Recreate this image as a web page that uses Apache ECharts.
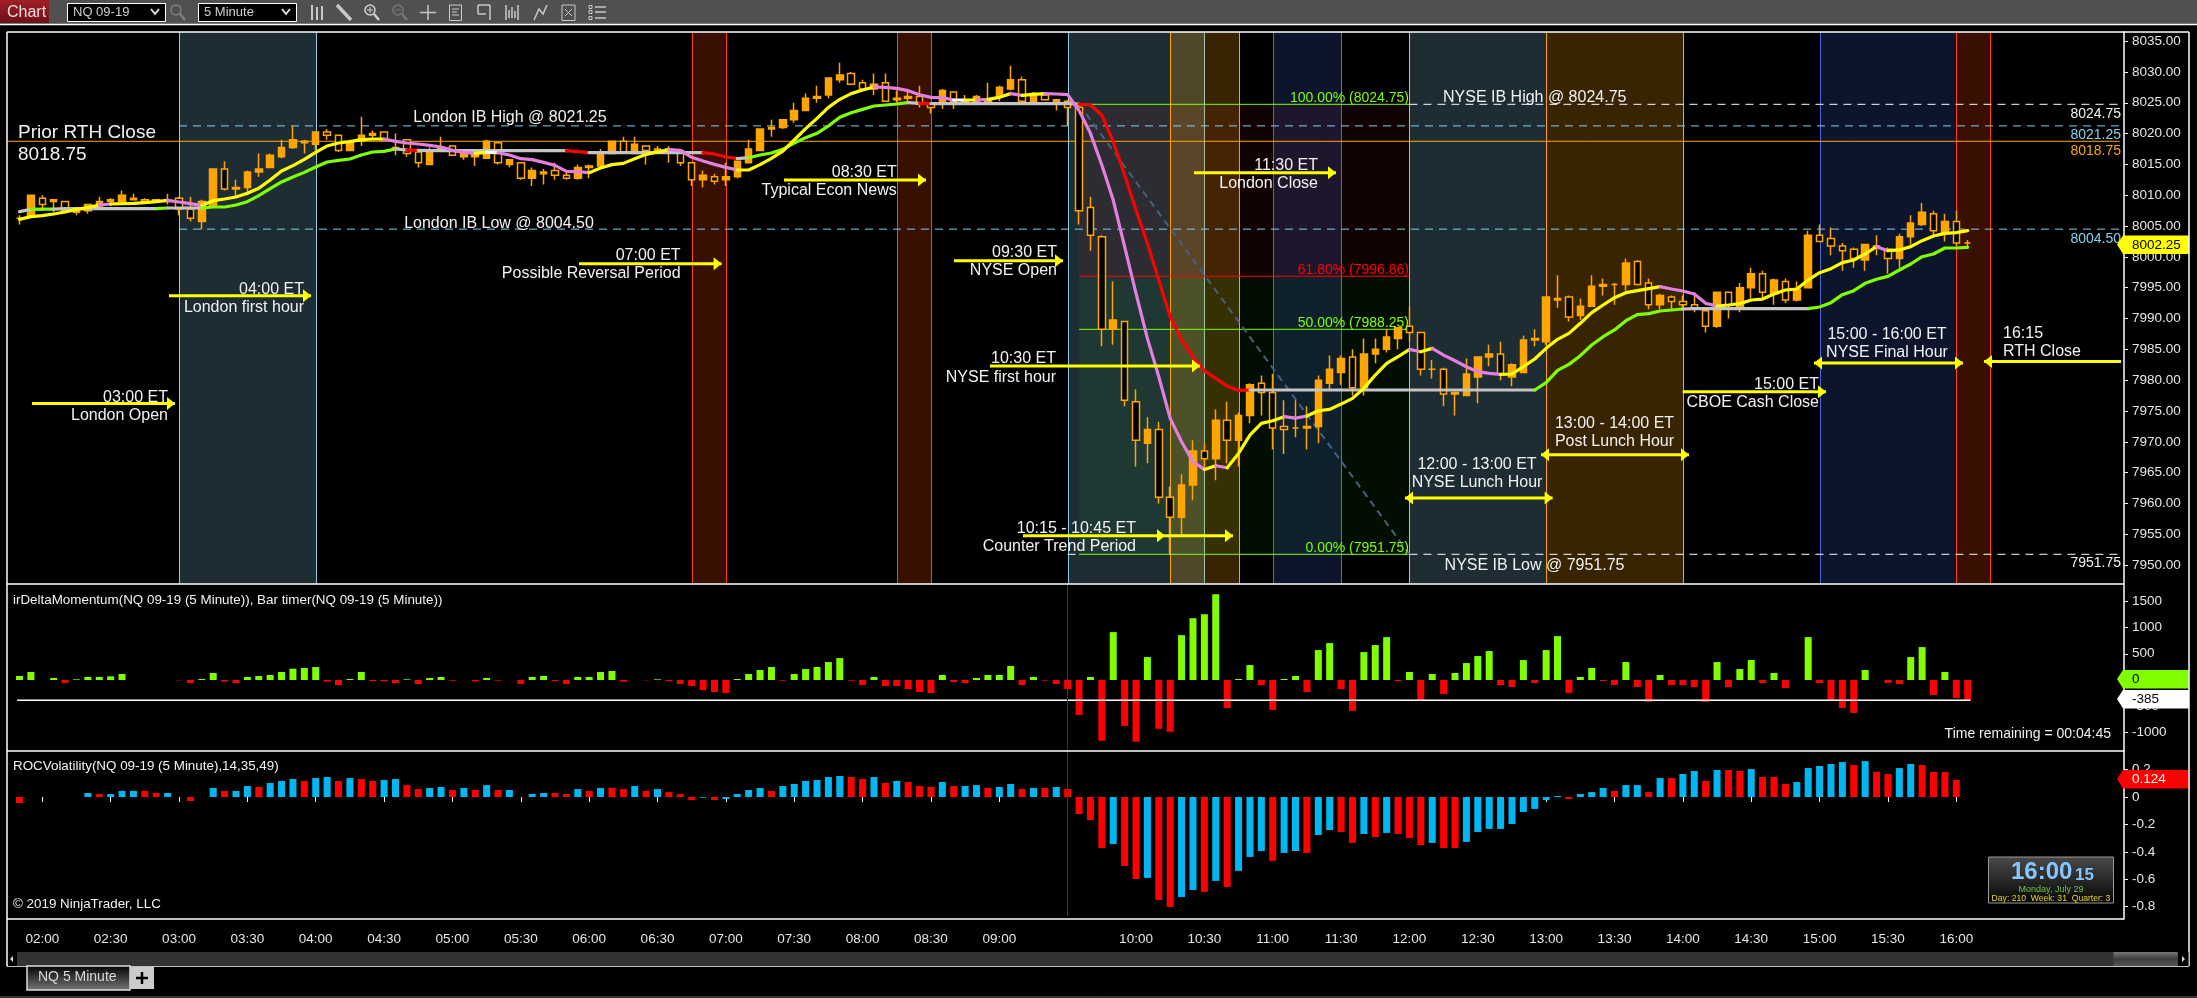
<!DOCTYPE html>
<html><head><meta charset="utf-8">
<style>html,body{margin:0;padding:0;background:#000}#c{width:2197px;height:998px}</style>
<script src="https://cdn.jsdelivr.net/npm/echarts@6/dist/echarts.min.js"></script>
</head><body><div id="c"></div>
<script>
// ---------- data: 5-minute bars, index 0 = 01:50 ----------
const firstBarMinute = 110, barMinutes = 5;
const opens = [8006.25,8006.5,8009.5,8009,8009,8007.25,8007.5,8008.25,8009,8009,
8009.25,8009.25,8009.25,8009,8009.5,8007.75,8005.75,8008.25,8014.25,8011,
8011.25,8013.75,8014.5,8016.25,8017.75,8018.5,8018.25,8020.25,8019.75,8017.25,
8018.75,8019.75,8020.25,8017.5,8019,8017,8015,8017.5,8018,8016.25,
8016.25,8016,8018.5,8015,8015.25,
8012.75,8013.5,8014,8013.25,8012.75,8014.5,8014.75,8016.75,8018.75,8016.75,
8018,8017.25,8017.25,8017.25,8015.25,8012.5,8013,8012.5,8013,8015.25,
8017.25,8020.75,8021,8022.25,8023.75,8025.75,8026.25,8028.75,8029.75,8028.25,
8027.25,8028.25,8025.5,8025.75,8026,8024.75,8024.75,8026.75,8025.25,8025.25,
8025.25,8026,8027.25,8028.75,8025.25,8026.25,
8025.25,8025.25,8024.25,8008,8003.25,7988.25,7989.5,7976.5,7969.75,7972,
7961,7957.75,7963,7968.5,7967.25,7973.5,7970.25,7974.25,7979.5,7978,
7972.5,7972.25,7972.5,7972.5,7979.5,7981.25,7983.75,7978.75,7984.25,7985,
7986.75,7988.75,7987.75,7981.75,7981.75,7977.75,7977.5,7980.5,
7983.75,7984.25,7980.5,7981.25,7986.75,7986.25,7993,7993.5,7990.5,7992,
7995.25,7995.5,7995.5,7999.25,7995.75,7992.25,7993.5,7992.75,7992.25,7991.25,
7988.75,7994.25,7992,7995,7997.25,7994,7996,7993,7995,8003.5,
8003,8001.75,8001.25,7999.5,8001.5,8001.25,7999.75,8003.25,8005.25,8007,
8004,8005.75,8002.25];
const closes = [8006.25,8010,8008.5,8009.25,8007.5,8007.5,8008.5,8009,8009.25,8010,
8009.5,8009,8009,8009.25,8007.75,8006.25,8009,8014.25,8011,8011.25,
8013.75,8014.25,8016.5,8017.75,8019,8018.75,8020.25,8019.75,8017.25,8018.5,
8019.75,8020,8019,8017.75,8016.75,8015.25,8017,8017.75,8016.5,8017,
8016.75,8018.75,8015.25,8015.75,8012.75,
8014,8013.75,8013.25,8012.75,8014.5,8014.75,8016.75,8018.75,8017,8018.25,
8017.25,8017.5,8017.5,8015.25,8012.5,8013.25,8012.25,8013,8015.5,8017.5,
8020.75,8021,8022.25,8023.75,8025.75,8026,8029,8029.5,8028,8027.25,
8028,8025.25,8025.75,8026,8024.75,8024.25,8027,8025.25,8025.5,8026,
8025.5,8027.5,8028.75,8025.25,8026.5,8025.5,
8025.5,8024.25,8007.5,8003.5,7988.25,7989.75,7976.75,7970.25,7972,7961,
7957.75,7963,7968.5,7967.25,7973.5,7970.25,7974.25,7979.25,7978,7972.25,
7972,7972.25,7972.25,7980,7981.75,7983.5,7978.75,7984.25,7985,7987,
7988.5,7987.75,7981.75,7981.75,7977.75,7978,7981,7983.75,
7984.25,7981,7982.5,7986.5,7986.5,7993.5,7993.25,7990.25,7992,7995.25,
7995.5,7995.5,7999,7995.5,7992.25,7993.75,7992.75,7992.25,7991.75,7988.75,
7994.25,7992.25,7995,7997.25,7994.25,7996.25,7993,7994.75,8003.5,8002.5,
8001.75,8001,7999.75,8002,8001.75,7999.75,8003.25,8005.5,8007.25,8004.25,
8005.75,8002.25,8002.25];
const highs = [8006.75,8010,8010,8009.25,8009,8007.5,8008.5,8009.75,8009.5,8010.75,
8010.25,8009.5,8009.25,8010.25,8009.75,8009.75,8009.25,8014.25,8015.5,8012.5,
8014,8016.75,8016.75,8019,8021.25,8019,8020.25,8020.75,8019.75,8019,
8022.75,8020.5,8020.25,8020,8019,8017.5,8017.75,8019.5,8018,8017.5,
8017.5,8019,8018.5,8015.75,8015.25,
8014.5,8014.25,8015.25,8014,8015,8015,8017.5,8018.75,8019.5,8019.5,
8018,8018,8018,8017.5,8015.25,8014,8013.5,8015.25,8015.5,8019,
8020.75,8022.25,8022.25,8025,8026.5,8027.75,8029,8031.5,8030,8028.75,
8029.75,8029.75,8027,8026.75,8027.75,8025,8027.25,8026.75,8026.25,8026.25,
8028.25,8027.75,8031,8029.25,8026.75,8026.75,
8025.5,8025.5,8024.75,8009.75,8003.5,7996,7989.5,7978.5,7974,7973.25,
7962.75,7964.75,7970.25,7969.75,7975.25,7976.5,7974.75,7979.5,7980.75,7981,
7976.75,7976.75,7975.75,7980.75,7984,7984,7985,7986.75,7986.75,7988.25,
7988.5,7992,7987.75,7983.25,7982,7978,7983.5,7983.75,
7985.75,7986.25,7982.75,7987.25,7988.25,7993.5,7997,7993.75,7993.25,7997,
7996.5,7995.75,7999.75,7999.5,7996.5,7994,7993.75,7993.75,7994.25,7991.75,
7994.25,7994.25,7995.75,7998.25,7997.75,7996.5,7996.5,7996,8004.25,8005.25,
8004.75,8002.25,8001.5,8002,8003.5,8001.5,8003.75,8006.75,8008.75,8007.5,
8007,8007.5,8002.75];
const lows = [8005.25,8006.5,8007.5,8007.25,8007.5,8006.75,8007,8008.25,8008.25,8009,
8009.25,8008.75,8009,8008.5,8006.75,8005.75,8004.5,8008.25,8010.75,8009.5,
8010,8013,8014.5,8016,8017.5,8016.75,8017.25,8019,8017,8017.25,
8018,8019,8019,8016.5,8016.25,8014.5,8015,8017,8016.5,8015.75,
8014.75,8016,8015,8014.5,8012.5,
8011.5,8011.75,8012.5,8012.5,8012.5,8012.75,8014.5,8016.75,8016.75,8016.75,
8015,8016.75,8015.25,8014.75,8011.5,8011.25,8011.75,8011.5,8012.75,8015.25,
8017.25,8019.5,8020.75,8021.75,8023.75,8025,8025.75,8028.25,8028,8027.25,
8026.25,8025.25,8025,8025.25,8024.25,8023.25,8024,8024,8025,8025,
8025,8025.25,8027,8025,8025.25,8025.5,
8023.75,8021.25,8005.25,8001,7985.5,7985.75,7975.75,7966,7966.5,7960,
7951.75,7955,7960.5,7965.75,7963.75,7966.5,7966,7973,7974.25,7968.75,
7968,7970.75,7968.75,7969.75,7978.5,7979.25,7977.5,7977.5,7982.75,7984.5,
7985,7986.25,7980.75,7980.25,7975.75,7974.25,7977.5,7976.25,
7982.25,7980,7979,7981.25,7985.5,7985.75,7991.75,7989.5,7989.75,7992,
7993.75,7992.25,7994.5,7995.5,7991.5,7991.5,7991.5,7991.5,7991,7987.75,
7988.5,7990,7991,7993.25,7993,7992.25,7992.5,7992.75,7995,8002.5,
8000.25,7997.75,7998.25,7997.75,8000.25,7997.25,7998.25,8002,8005,8003.5,
8002.5,8001.75,8001.5];
const fastLine = [8006.09,8006.52,8006.68,8006.95,8007.28,8007.71,8007.98,8008.41,8008.58,8008.63,
8008.68,8008.79,8008.95,8009.17,8008.90,8008.63,8008.36,8009.12,8009.39,8009.71,
8010.31,8011.12,8012.47,8013.93,8014.80,8015.82,8016.96,8017.99,8018.47,8018.69,
8019.01,8019.12,8019.12,8018.74,8018.47,8018.31,8018.09,8017.82,8017.28,8016.96,
8016.80,8016.96,8016.90,8016.53,8015.93,
8015.77,8015.33,8014.85,8013.87,8013.82,8013.66,8014.41,8014.96,8015.17,8015.93,
8016.63,8017.01,8017.39,8017.28,8016.15,8015.55,8015.01,8014.52,8014.09,8014.09,
8014.96,8015.98,8017.17,8018.96,8020.80,8022.47,8024.26,8025.56,8026.48,8027.07,
8027.56,8027.50,8027.34,8026.96,8026.31,8025.88,8025.83,8025.45,8025.45,8025.45,
8025.56,8025.88,8026.48,8026.20,8026.37,8026.48,
8026.42,8026.31,8023.72,8020.04,8014.90,8009.22,8001.65,7994.08,7986.78,7980.56,
7973.80,7970.01,7966.77,7965.52,7966.12,7965.79,7968.12,7971.09,7972.99,7973.42,
7974.07,7973.85,7974.18,7975.04,7975.26,7976.12,7977.04,7978.67,7980.83,7982.72,
7983.80,7984.99,7984.61,7985.16,7984.07,7983.15,7982.18,7981.37,
7981.10,7980.94,7981.00,7982.19,7983.43,7985.16,7986.62,7987.59,7989.22,7990.95,
7992.19,7993.38,7994.19,7994.52,7994.84,7995.17,7994.79,7994.46,7993.98,7992.46,
7992.03,7992.19,7992.41,7993.00,7993.16,7993.98,7994.63,7994.79,7996.25,7997.44,
7998.09,7999.06,7999.49,8000.47,8001.66,8001.01,8001.12,8001.66,8002.63,8003.39,
8003.82,8003.93,8004.25];
const slowLine = [8007.33,8007.71,8007.76,8007.76,8007.82,8007.82,8007.82,8007.82,8007.82,8007.82,
8007.82,8007.82,8007.82,8007.93,8007.93,8007.93,8007.93,8008.09,8008.09,8008.41,
8008.95,8009.93,8011.06,8012.15,8012.96,8013.71,8014.58,8015.39,8015.66,8015.88,
8016.53,8017.01,8017.12,8017.50,8017.34,8017.28,8017.23,8017.23,8017.23,8017.23,
8017.23,8017.23,8017.23,8017.23,8017.23,8017.23,8017.23,8017.23,8017.23,8017.06,
8016.90,8016.90,8016.90,8016.90,8016.90,8016.90,8016.90,8016.90,8016.90,8016.90,
8016.90,8016.69,8016.20,8015.93,8016.09,8016.52,8016.85,8017.44,8018.47,8019.34,
8020.04,8021.23,8022.64,8023.39,8023.93,8024.47,8024.64,8024.80,8025.01,8024.91,
8024.85,8024.85,8024.85,8024.85,8024.85,8024.85,8024.85,8024.85,8024.85,8024.85,
8024.85,8024.85,8024.85,8024.80,8024.64,8023.01,8018.69,8013.28,8007.60,8002.19,
7996.24,7990.29,7986.51,7983.80,7981.53,7980.29,7979.04,7978.34,7978.40,7978.40,
7978.40,7978.40,7978.40,7978.40,7978.40,7978.40,7978.40,7978.40,7978.40,7978.40,
7978.40,7978.40,7978.40,7978.40,7978.40,7978.40,7978.40,7978.40,7978.40,7978.40,
7978.40,7978.40,7978.40,7978.40,7979.59,7981.59,7982.56,7983.97,7985.70,7987.05,
7988.14,7989.65,7990.62,7990.79,7991.22,7991.38,7991.54,7991.60,7991.60,7991.60,
7991.60,7991.60,7991.60,7991.60,7991.60,7991.60,7991.60,7991.60,7991.87,7992.57,
7993.87,7994.52,7995.71,7996.36,7996.84,7997.87,7998.84,8000.03,8000.47,8001.44,
8001.44,8001.55];
// colour state of each line: [first bar index, state]
const fastStates = [[0,'Y'],[7,'P'],[8,'Y'],[13,'P'],[16,'Y'],[32,'P'],[40,'Y'],[41,'W'],[42,'P'],[50,'Y'],[57,'P'],[63,'Y'],[75,'P'],[82,'W'],[83,'Y'],[84,'P'],[85,'Y'],[87,'P'],[88,'Y'],[90,'P'],[104,'Y'],[105,'P'],[106,'Y'],[111,'P'],[113,'Y'],[122,'P'],[123,'Y'],[124,'P'],[130,'Y'],[144,'P'],[149,'Y'],[163,'P'],[164,'Y']];
const slowStates = [[0,'G'],[1,'N'],[3,'G'],[12,'N'],[13,'G'],[16,'N'],[33,'G'],[34,'R'],[35,'G'],[48,'R'],[50,'G'],[60,'R'],[63,'G'],[64,'N'],[78,'G'],[79,'R'],[80,'G'],[93,'R'],[108,'G'],[133,'N'],[146,'G'],[157,'N']];
const deltaValues = [76,152,0,38,-57,13,57,57,70,114,0,0,0,0,-6,-57,19,133,-32,-57,
57,76,95,152,215,228,247,-32,-95,19,152,-19,-25,-57,13,-76,38,57,-13,0,
-25,38,-13,0,-76,57,76,-19,-76,57,57,152,171,-32,0,-6,13,-19,-76,-114,
-190,-228,-247,19,114,190,247,-13,114,209,247,342,418,-13,-95,57,-114,-114,-171,-228,
-247,95,-38,-57,38,95,95,266,-95,57,-13,-76,-171,-665,57,-1158,912,-874,-1177,437,
-930,-987,855,1177,1253,1633,-532,19,285,-95,-570,19,76,-228,570,703,-171,-589,532,665,
817,-19,152,-399,114,-266,133,323,456,551,-95,-133,380,-57,570,836,-247,57,228,-19,
-95,342,-133,-418,95,-95,-95,-133,-418,342,-133,209,380,-57,133,-152,0,817,-57,-399,
-532,-627,190,0,-57,-76,437,627,-285,152,-342,-385];
const rocValues = [-0.044,null,null,null,null,null,0.029,0.022,0.022,0.044,0.044,0.044,0.029,0.029,null,-0.029,null,0.066,0.044,0.044,
0.08,0.073,0.102,0.117,0.131,0.117,0.138,0.146,0.117,0.138,0.131,0.117,0.124,0.131,0.087,0.058,0.066,0.073,0.051,0.066,
0.051,0.087,0.051,0.051,null,0.022,0.029,0.029,0.022,0.058,0.044,0.066,0.066,0.058,0.08,0.044,0.058,0.036,0.022,-0.022,
-0.005,-0.022,-0.015,0.022,0.051,0.066,0.044,0.08,0.095,0.117,0.124,0.146,0.153,0.146,0.131,0.146,0.102,0.117,0.109,0.08,
0.073,0.109,0.08,0.08,0.087,0.066,0.073,0.095,0.058,0.066,0.066,0.073,0.058,-0.124,-0.168,-0.372,-0.343,-0.503,-0.598,-0.59,
-0.751,-0.802,-0.729,-0.678,-0.692,-0.612,-0.656,-0.539,-0.437,-0.394,-0.466,-0.408,-0.394,-0.408,-0.277,-0.241,-0.255,-0.335,-0.27,-0.292,
-0.262,-0.27,-0.299,-0.35,-0.335,-0.372,-0.372,-0.328,-0.255,-0.233,-0.233,-0.197,-0.109,-0.087,-0.022,0.007,-0.015,0.022,0.036,0.066,
0.044,0.087,0.087,0.036,0.138,0.138,0.168,0.19,0.117,0.197,0.197,0.19,0.204,0.146,0.146,0.095,0.109,0.211,0.226,0.241,
0.255,0.233,0.262,0.182,0.168,0.211,0.241,0.233,0.182,0.182,0.124,null];
const rocStates = ["r-----brbbbrrb-r-brb","brbbbrbbrbrrbbrrbbrb","rbrb-bbrrbrbrrbrbrrr","brbbbbrbbbbbbrrbrbrr","rbrbbrbbrbrbrrrrbrrb","rrbbrbrbbbrbbrbbrrbr","brrrbrrbbbbbbbbbrbbb","rbbrbrbbrbrrbrrrbbbb","brbrrbbrrrr-"].join('');
// session regions, in minutes after midnight
const regions = [
 {from:180,to:240,kind:'sky'},{from:405,to:420,kind:'rust'},{from:495,to:510,kind:'rust'},
 {from:570,to:630,kind:'sky'},{from:660,to:690,kind:'royal'},{from:720,to:780,kind:'sky'},
 {from:780,to:840,kind:'amber'},{from:900,to:960,kind:'royal'},{from:960,to:975,kind:'rust'},
 {from:615,to:645,kind:'amber'}
];
const priceTicks = [8035,8030,8025,8020,8015,8010,8005,8000,7995,7990,7985,7980,7975,7970,7965,7960,7955,7950];
const deltaTicks = [1500,1000,500,0,-500,-1000];
const rocTicks = [0.2,0,-0.2,-0.4,-0.6,-0.8];
const timeTicks = [120,150,180,210,240,270,300,330,360,390,420,450,480,510,540,600,630,660,690,720,750,780,810,840,870,900,930,960];
const priorClose=8018.75, londonHigh=8021.25, londonLow=8004.5, nyseHigh=8024.75, nyseLow=7951.75;
const fib618=7996.86, fib50=7988.25, lastPrice=8002.25, lastDelta=-385, lastRoc=0.124;

// ---------- layout ----------
const gridLeft=7, gridWidth=2117, xMin=104.51, xMax=1033.6;
const xOf=i=>firstBarMinute+barMinutes*i;
const hhmm=m=>String(Math.floor(m/60)).padStart(2,'0')+':'+String(m%60).padStart(2,'0');
const FONT='"Liberation Sans",Arial,sans-serif';
const AX='#e6e6e6';
const palette={Y:'#ffff00',P:'#e37fe0',W:'#ffffff',G:'#c4c4c4',N:'#7fff00',R:'#ff0000'};
const kinds={sky:['rgba(135,206,235,0.22)','#87ceeb'],rust:['rgba(255,69,0,0.22)','#ff4500'],
 royal:['rgba(65,105,225,0.2)','#4169e1'],amber:['rgba(255,165,0,0.22)','#ffa500']};

const chart=echarts.init(document.getElementById('c'),null,{width:2197,height:998,renderer:'canvas'});
const series=[];
function rectItem(api,x0,x1,p0,p1){
  const a=api.coord([x0,p0]), b=api.coord([x1,p1]);
  return {x:a[0],y:a[1],width:b[0]-a[0],height:b[1]-a[1]};
}
series.push({type:'custom',xAxisIndex:0,yAxisIndex:0,z:1,silent:true,clip:true,
 data:regions.map(r=>[r.from,r.to]),encode:{x:[0,1]},
 renderItem(params,api){
  const r=regions[params.dataIndex],k=kinds[r.kind];
  const cs=params.coordSys, top=cs.y, bot=cs.y+cs.height;
  const x0=Math.round(api.coord([r.from,8000])[0])+.5, x1=Math.round(api.coord([r.to,8000])[0])+.5;
  return {type:'group',children:[
   {type:'rect',shape:{x:x0,y:top,width:x1-x0,height:bot-top},style:{fill:k[0]}},
   {type:'line',shape:{x1:x0,y1:top,x2:x0,y2:bot},style:{stroke:k[1],lineWidth:1}},
   {type:'line',shape:{x1:x1,y1:top,x2:x1,y2:bot},style:{stroke:k[1],lineWidth:1}}]};
 }});
const fibFrom=575, fibTo=720;
series.push({type:'custom',xAxisIndex:0,yAxisIndex:0,z:1,silent:true,
 data:[[fibFrom,fibTo,nyseHigh,fib618,0],[fibFrom,fibTo,fib618,nyseLow,1]],encode:{x:[0,1],y:[2,3]},
 renderItem(params,api){
  return {type:'rect',shape:rectItem(api,api.value(0),api.value(1),api.value(2),api.value(3)),
   style:{fill:api.value(4)?'rgba(60,255,60,0.055)':'rgba(255,40,40,0.07)'}};
 }});
function seg(points,color,width,type,z){
 series.push({type:'line',xAxisIndex:0,yAxisIndex:0,data:points,showSymbol:false,symbol:'none',silent:true,z:z||2,
  lineStyle:{color,width:width||1,type:type||'solid'},animation:false});
}
seg([[xMin,priorClose],[xMax-2,priorClose]],'#ffa500',1);
seg([[180,londonHigh],[xMax-2,londonHigh]],'#87ceeb',1,[8,6]);
seg([[180,londonLow],[xMax-2,londonLow]],'#87ceeb',1,[8,6]);
seg([[570,nyseHigh],[fibFrom,nyseHigh]],'#ffffff',1,[8,6]);
seg([[fibTo,nyseHigh],[xMax,nyseHigh]],'#ffffff',1,[8,6]);
seg([[570,nyseLow],[fibFrom,nyseLow]],'#ffffff',1,[8,6]);
seg([[fibTo,nyseLow],[xMax,nyseLow]],'#ffffff',1,[8,6]);
seg([[fibFrom,nyseHigh],[fibTo,nyseHigh]],'#7fff00',1);
seg([[fibFrom,fib618],[fibTo,fib618]],'#ff0000',1);
seg([[fibFrom,fib50],[fibTo,fib50]],'#7fff00',1);
seg([[fibFrom,nyseLow],[fibTo,nyseLow]],'#7fff00',1);
seg([[fibFrom,nyseHigh],[fibTo,nyseLow]],'#46607e',2,[7,5]);
series.push({type:'candlestick',xAxisIndex:0,yAxisIndex:0,z:3,silent:true,barWidth:7,encode:{x:0,y:[1,2,3,4]},
 itemStyle:{color:'#ffa500',color0:'#000000',borderColor:'#ffa500',borderColor0:'#ffa500',borderColorDoji:'#ffa500',borderWidth:1.5},
 data:opens.map((o,i)=>[xOf(i),o,closes[i],lows[i],highs[i]])});
function runs(values,states,z){
 states.forEach((s,k)=>{
  const end=k+1<states.length?states[k+1][0]:values.length-1;
  const pts=[];for(let i=s[0];i<=end;i++)pts.push([xOf(i),values[i]]);
  series.push({type:'line',xAxisIndex:0,yAxisIndex:0,data:pts,symbol:'none',silent:true,z,
   lineStyle:{color:palette[s[1]],width:3.2,cap:'round',join:'round'}});
 });
}
runs(slowLine,slowStates,4);
runs(fastLine,fastStates,5);
series.push({type:'bar',xAxisIndex:1,yAxisIndex:1,barWidth:7,silent:true,z:2,
 data:deltaValues.map((v,i)=>({value:[xOf(i),v],itemStyle:{color:v>=0?'#7fff00':'#ff0000'}}))});
series.push({type:'line',xAxisIndex:1,yAxisIndex:1,symbol:'none',silent:true,z:3,
 lineStyle:{color:'#fff',width:1.5},data:[[xOf(0)-1,lastDelta],[xOf(deltaValues.length-1)+1.2,lastDelta]]});
series.push({type:'bar',xAxisIndex:2,yAxisIndex:2,barWidth:7,silent:true,z:2,
 data:rocValues.map((v,i)=>({value:[xOf(i),v],itemStyle:{color:rocStates[i]==='r'?'#ff0000':'#00b7f1'}}))});

const xBase={type:'value',min:xMin,max:xMax,splitLine:{show:false},axisLine:{show:false},axisTick:{show:false},axisLabel:{show:false}};
const yBase=t=>({position:'right',type:'value',splitLine:{show:false},
 axisLine:{show:true,lineStyle:{color:'#fff',width:1.5}},axisTick:{show:true,length:4,lineStyle:{color:'#fff'},customValues:t},
 });
const lab=(t,f)=>({show:true,color:AX,fontFamily:FONT,fontSize:13.5,margin:8,customValues:t,formatter:f,showMinLabel:true,showMaxLabel:true});

// ---------- annotations ----------
const g=[];
const Z=50;
function T(x,y,text,o){o=o||{};g.push({type:'text',z:o.z||Z,silent:true,x,y:y+1.5+(o.dy||0),style:{text,fill:o.c||'#f2f2f2',font:(o.w||'')+' '+(o.s||16)+'px '+FONT,align:o.a||'left',verticalAlign:'middle'}});}
function L(x1,y1,x2,y2,c,w){g.push({type:'line',z:Z,silent:true,shape:{x1,y1,x2,y2},style:{stroke:c||'#fff',lineWidth:w||1}});}
function R(x,y,w,h,f,s,zz){g.push({type:'rect',z:zz||Z,silent:true,shape:{x,y,width:w,height:h},style:{fill:f,stroke:s||null,lineWidth:s?1:0}});}
function P(pts,f,zz){g.push({type:'polygon',z:zz||Z,silent:true,shape:{points:pts},style:{fill:f}});}
const YEL='#ffff00';
function head(x,y,dir){P([[x,y],[x-8*dir,y-6.5],[x-8*dir,y+6.5]],YEL);}
function arrow(x0,x1,y,both){L(x0,y,x1,y,YEL,3);head(x1,y,x1>x0?1:-1);if(both)head(x0,y,x0>x1?1:-1);}

T(18,130,'Prior RTH Close',{s:19,dy:1});T(18,152,'8018.75',{s:19,dy:1});
T(510,116,'London IB High @ 8021.25',{a:'center'});T(499,222,'London IB Low @ 8004.50',{a:'center'});
arrow(32,175,403.6);T(168,396,'03:00 ET',{a:'right'});T(168,414,'London Open',{a:'right'});
arrow(169,311,295.7);T(304,288,'04:00 ET',{a:'right'});T(304,306,'London first hour',{a:'right'});
arrow(579,721.6,263.7);T(680.6,254,'07:00 ET',{a:'right'});T(680.6,272,'Possible Reversal Period',{a:'right'});
arrow(784,926,180);T(896.7,171,'08:30 ET',{a:'right'});T(896.7,189,'Typical Econ News',{a:'right'});
arrow(954,1063,260.7);T(1057,251,'09:30 ET',{a:'right'});T(1057,269,'NYSE Open',{a:'right'});
arrow(990,1200,366);T(1056,357,'10:30 ET',{a:'right'});T(1056,376,'NYSE first hour',{a:'right'});
arrow(1023,1165,535.7);arrow(1165,1233,535.7);T(1136,527,'10:15 - 10:45 ET',{a:'right'});T(1136,545,'Counter Trend Period',{a:'right'});
arrow(1194,1336,172.7);T(1318,164,'11:30 ET',{a:'right'});T(1318,182,'London Close',{a:'right'});
arrow(1405,1552.6,498,true);T(1477,463,'12:00 - 13:00 ET',{a:'center'});T(1477,481,'NYSE Lunch Hour',{a:'center'});
arrow(1541,1689,454.7,true);T(1614.5,422,'13:00 - 14:00 ET',{a:'center'});T(1614.5,440,'Post Lunch Hour',{a:'center'});
arrow(1682.7,1826,391.7);T(1819,382.7,'15:00 ET',{a:'right'});T(1819,401,'CBOE Cash Close',{a:'right'});
arrow(1814,1963,363,true);T(1887,333,'15:00 - 16:00 ET',{a:'center'});T(1887,351,'NYSE Final Hour',{a:'center'});
arrow(2121,1984,361.5);T(2003,332,'16:15');T(2003,350,'RTH Close');
T(1409,97,'100.00% (8024.75)',{a:'right',c:'#7fff00',s:14});T(1409,269,'61.80% (7996.86)',{a:'right',c:'#ff0000',s:14});
T(1409,322,'50.00% (7988.25)',{a:'right',c:'#7fff00',s:14});T(1409,547,'0.00% (7951.75)',{a:'right',c:'#7fff00',s:14});
T(1443,96.5,'NYSE IB High @ 8024.75');T(1444.6,564,'NYSE IB Low @ 7951.75');
T(2121,113,'8024.75',{a:'right',s:14});T(2121,134,'8021.25',{a:'right',s:14,c:'#87ceeb'});
T(2121,150,'8018.75',{a:'right',s:14,c:'#ffa500'});T(2121,238,'8004.50',{a:'right',s:14,c:'#87ceeb'});
T(2121,562,'7951.75',{a:'right',s:14});
function tag(y,f,text,c){P([[2117,y+9],[2123,y],[2189,y],[2189,y+18.5],[2123,y+18.5]],f);T(2132,y+9.5,text,{s:13.5,c,dy:-1.5});}
tag(235.5,'#ffff00',lastPrice.toFixed(2),'#000');tag(670,'#7fff00','0','#000');tag(690,'#ffffff',String(lastDelta),'#000');tag(770,'#ff0000',String(lastRoc),'#fff');
T(13,598.7,'irDeltaMomentum(NQ 09-19 (5 Minute)), Bar timer(NQ 09-19 (5 Minute))',{s:13.4});
T(13,765,'ROCVolatility(NQ 09-19 (5 Minute),14,35,49)',{s:13.4});
T(13,903,'\u00a9 2019 NinjaTrader, LLC',{s:13.4});
T(2111,733,'Time remaining = 00:04:45',{a:'right',s:14});
L(1067.5,584,1067.5,916,'#5a1a8a',1);
L(0,24.5,2197,24.5,'#fff',1.5);L(7,32,2189,32,'#fff',1.5);L(7,32,7,966,'#fff',1.5);L(2189,32,2189,966,'#fff',1.5);
L(7,584,2124,584,'#fff',1.5);L(7,751,2124,751,'#fff',1.5);L(7,919,2124,919,'#fff',1.5);L(7,966,2189,966,'#fff',1.5);
g.push({type:'rect',z:Z,silent:true,shape:{x:1988.5,y:857,width:125,height:46},style:{stroke:'#9a9a9a',lineWidth:1,fill:new echarts.graphic.LinearGradient(0,0,0,1,[{offset:0,color:'#4a4a4a'},{offset:1,color:'#050505'}])}});
T(2011,871,'16:00',{s:24,w:'bold',c:'#85c8ff'});T(2075,874,'15',{s:17,w:'bold',c:'#85c8ff'});
T(2051,888,'Monday, July 29',{s:9,a:'center',c:'#6fc24a'});T(2051,897,'Day: 210  Week: 31  Quarter: 3',{s:8.6,a:'center',c:'#e8d820'});
R(0,0,2197,24,'#505050',null,40);
g.push({type:'rect',z:Z,silent:true,shape:{x:0,y:0,width:49,height:23},style:{fill:new echarts.graphic.LinearGradient(0,0,0,1,[{offset:0,color:'#a02028'},{offset:1,color:'#6d1116'}])}});
T(7,11,'Chart',{s:16,c:'#f0dede'});
R(67.5,3.5,98,18,'#000','#fff');T(73,11,'NQ 09-19',{s:13,c:'#cfcfcf'});
R(198.5,3.5,98,18,'#000','#fff');T(204,11,'5 Minute',{s:13,c:'#cfcfcf'});
function chev(x){g.push({type:'polyline',z:Z,silent:true,shape:{points:[[x-4,9],[x,14],[x+4,9]]},style:{stroke:'#ddd',lineWidth:2,fill:null}});}
chev(155);chev(286);
function mag(x,c,sign){g.push({type:'circle',z:Z,silent:true,shape:{cx:x-2,cy:10,r:5},style:{stroke:c,fill:null,lineWidth:1.5}});L(x+2,14,x+7,20,c,2.5);if(sign){L(x-5,10,x+1,10,c,1);if(sign>0)L(x-2,7,x-2,13,c,1);}}
mag(178,'#808080');mag(372,'#d0d0d0',1);mag(400,'#777',-1);
const ic='#c8c8c8';
[312,317,322].forEach((x,i)=>{L(x,5+i*2%3,x,20,ic,2);});
L(337,5,351,20,ic,3.5);
L(420,12.5,436,12.5,ic,1.5);L(428,5,428,20,ic,1.5);
R(449.5,5,12,15.5,null,ic);L(452,9,459,9,ic,1);L(452,12,457,12,ic,1);L(452,15,459,15,ic,1);
L(478,5,490,5,ic,1.5);L(490,5,490,20,ic,1.5);L(478,5,478,14,ic,1.5);L(478,14,486,14,ic,1.5);
L(506,5,506,20,ic,1.5);L(518,5,518,20,ic,1.5);L(509,10,509,18,ic,1.5);L(512,7,512,18,ic,1.5);L(515,11,515,18,ic,1.5);
g.push({type:'polyline',z:Z,silent:true,shape:{points:[[534,20],[539,9],[543,14],[547,5]]},style:{stroke:ic,lineWidth:1.5,fill:null}});
R(562,5,13,15.5,null,ic);L(565,9,572,16,ic,1);L(565,16,572,9,ic,1);
[7,12,18].forEach(y=>{R(589,y-1.5,3,3,null,ic);L(595,y,606,y,ic,1.5);});
R(8,952,2180,14,'#333333');
R(8,952,9,14,'#000');P([[10,959],[13,956],[13,962]],'#ddd');
g.push({type:'rect',z:Z,silent:true,shape:{x:2113.5,y:952,width:64,height:14},style:{fill:new echarts.graphic.LinearGradient(0,0,0,1,[{offset:0,color:'#777'},{offset:.5,color:'#3c3c3c'},{offset:1,color:'#555'}])}});
R(2178,952,10.5,14,'#000');P([[2185,959],[2182,956],[2182,962]],'#ddd');
g.push({type:'rect',z:Z,silent:true,shape:{x:27,y:966,width:103,height:24},style:{stroke:'#ddd',lineWidth:1.5,fill:new echarts.graphic.LinearGradient(0,0,0,1,[{offset:0,color:'#000'},{offset:1,color:'#777'}])}});
T(38,976,'NQ 5 Minute',{s:14,c:'#d8d8d8'});
R(130,967,24,22,'#cccccc');L(136,978,148,978,'#000',2.5);L(142,972,142,984,'#000',2.5);
L(0,997,2197,997,'#666',1);

chart.setOption({
 animation:false,backgroundColor:'#000',
 grid:[{left:gridLeft,width:gridWidth,top:32,height:552},{left:gridLeft,width:gridWidth,top:584,height:167},{left:gridLeft,width:gridWidth,top:751,height:168}],
 xAxis:[{...xBase,gridIndex:0},{...xBase,gridIndex:1},
  {...xBase,gridIndex:2,axisTick:{show:true,length:5,lineStyle:{color:'#fff'},customValues:timeTicks},
   axisLabel:{show:true,color:AX,fontFamily:FONT,fontSize:13.5,margin:13,customValues:timeTicks,formatter:v=>hhmm(v),hideOverlap:false}}],
 yAxis:[
  {...yBase(priceTicks),gridIndex:0,min:7946.93,max:8036.48,axisLabel:lab(priceTicks,v=>Number(v).toFixed(2))},
  {...yBase(deltaTicks),gridIndex:1,min:-1352.4,max:1828.6,axisLabel:lab(deltaTicks,v=>String(v))},
  {...yBase(rocTicks),gridIndex:2,min:-0.8899,max:0.3355,axisLabel:lab(rocTicks,v=>String(v))}],
 series,
 graphic:{elements:g}
});
</script></body></html>
